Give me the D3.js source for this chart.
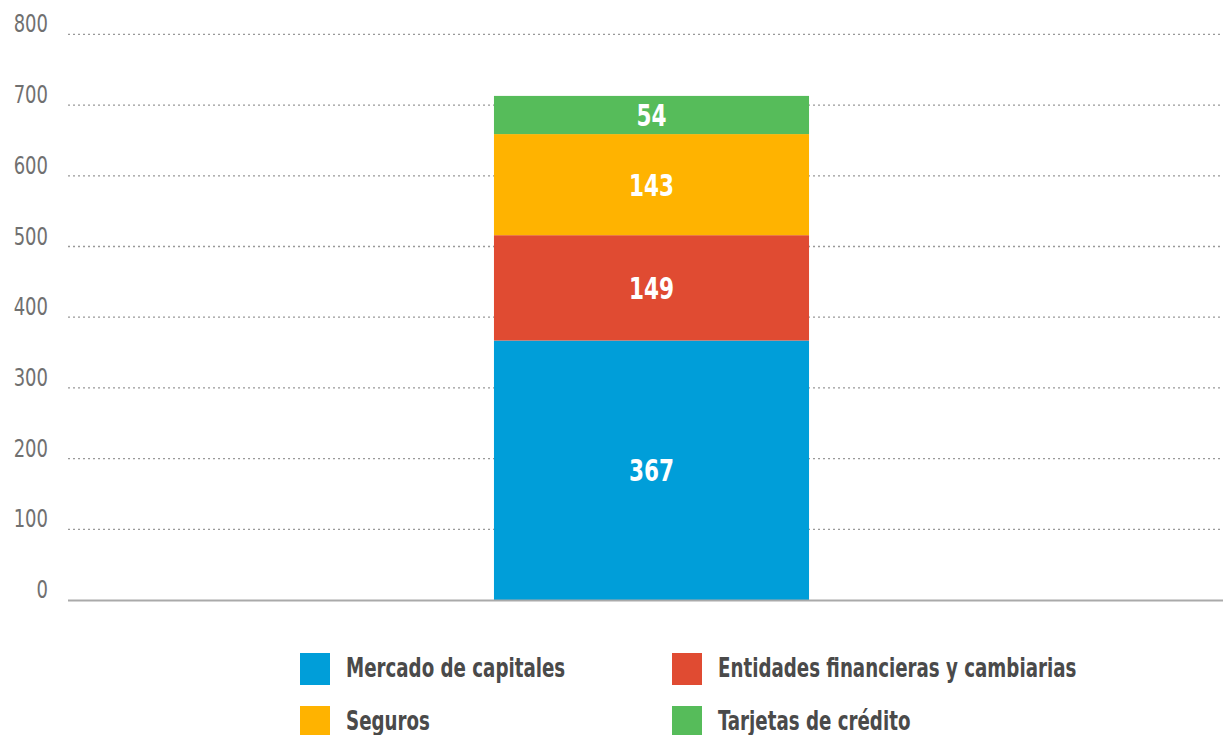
<!DOCTYPE html>
<html><head><meta charset="utf-8">
<script src="https://cdn.jsdelivr.net/npm/d3@7"></script>
<style>
html,body{margin:0;padding:0;background:#fff;}
svg{display:block;}
text{font-family:"DejaVu Sans Condensed","DejaVu Sans",sans-serif;}
</style></head>
<body>
<svg id="chart" width="1223" height="735"></svg>
<script>
const categories = ["Total"];
const seriesNames = ["Mercado de capitales","Entidades financieras y cambiarias","Seguros","Tarjetas de crédito"];
const seriesValues = [367, 149, 143, 54];
const seriesColors = ["#009ed9","#e04b32","#ffb300","#56bc5a"];
const yTicks = [0,100,200,300,400,500,600,700,800];

const svg = d3.select("#chart");
const y = d3.scaleLinear().domain([0,800]).range([600,34.4]);
const x = d3.scaleBand().domain(categories).range([68,1235]).paddingInner(0).paddingOuter(1.352);

// y axis labels
const yAxis = d3.axisLeft(y).tickValues(yTicks).tickSize(0).tickPadding(0);
const g = svg.append("g").attr("transform","translate(48,0)").call(yAxis);
g.select(".domain").remove();
g.selectAll("text").attr("font-size",25).attr("fill","#707070")
  .attr("font-family","'DejaVu Sans Condensed','DejaVu Sans',sans-serif")
  .attr("dy","-0.1em").attr("transform","scale(0.8,1)");

// grid
svg.append("g").selectAll("line").data(yTicks.filter(d=>d>0)).join("line")
  .attr("x1",68).attr("x2",1223).attr("y1",d=>y(d)).attr("y2",d=>y(d))
  .attr("stroke","#999").attr("stroke-width",1.3).attr("stroke-dasharray","2,3");

// stacked bar
let cum = 0;
const stacked = seriesValues.map((v,i)=>{const s={name:seriesNames[i],v,y0:cum,y1:cum+v,c:seriesColors[i]};cum+=v;return s;});
const bars = svg.append("g");
bars.selectAll("rect").data(stacked).join("rect")
  .attr("x",x("Total")).attr("width",x.bandwidth())
  .attr("y",d=>y(d.y1)).attr("height",d=>y(d.y0)-y(d.y1))
  .attr("fill",d=>d.c);
bars.selectAll("text").data(stacked).join("text")
  .attr("transform",d=>`translate(${x("Total")+x.bandwidth()/2},${(y(d.y0)+y(d.y1))/2}) scale(0.8,1)`)
  .attr("text-anchor","middle").attr("dy","0.37em")
  .attr("fill","#fff").attr("font-weight","bold").attr("font-size",30)
  .text(d=>d.v);

// baseline
svg.append("line").attr("x1",68).attr("x2",1223).attr("y1",y(0)+0.5).attr("y2",y(0)+0.5)
  .attr("stroke","#aaa").attr("stroke-width",2);

// legend
const legPos = [[300,653],[672,653],[300,706],[672,706]];
const leg = svg.append("g").selectAll("g").data(seriesNames).join("g")
  .attr("transform",(d,i)=>`translate(${legPos[i][0]},${legPos[i][1]})`);
leg.append("rect").attr("width",30).attr("height",32).attr("fill",(d,i)=>seriesColors[i]);
leg.append("text").attr("transform","translate(46,15) scale(0.78,1)").attr("dy","0.36em")
  .attr("font-size",26).attr("font-weight","bold").attr("fill","#4a4a4a").text(d=>d);
</script>
</body></html>
